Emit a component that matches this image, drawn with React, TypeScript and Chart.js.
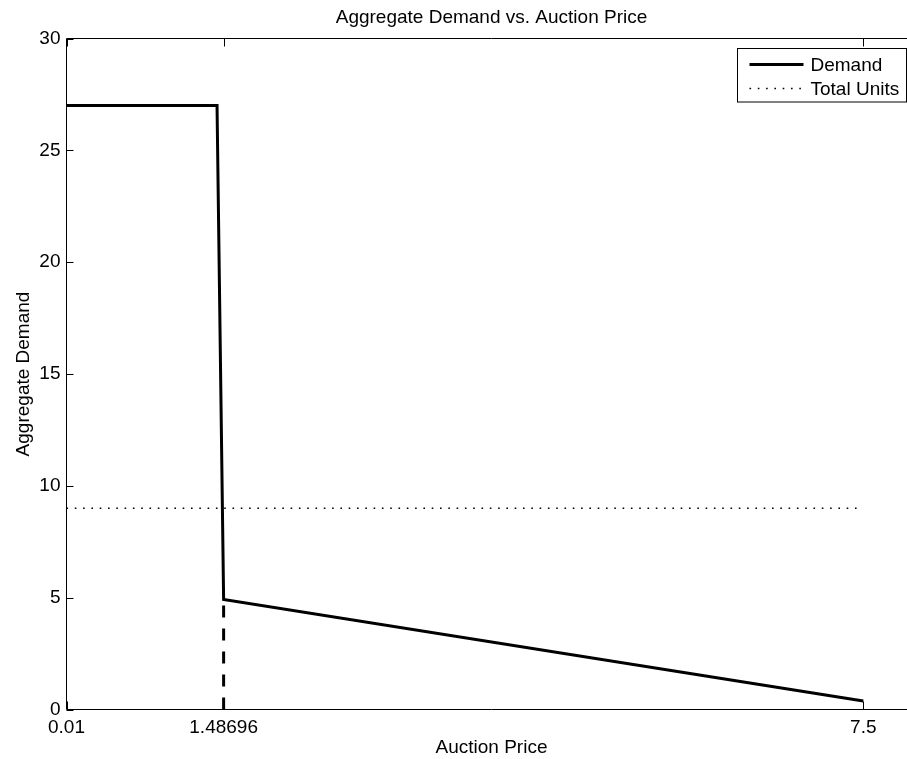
import { useEffect, useRef } from "react";
import { Chart, registerables } from "chart.js";

Chart.register(...registerables);

const TITLE = "Aggregate Demand vs. Auction Price";
const X_LABEL = "Auction Price";
const Y_LABEL = "Aggregate Demand";

// Price axis
const X_MIN = 0.01;
const X_MAX = 8;
const X_TICKS = [0.01, 1.48696, 7.5];
const X_TICK_LABELS = ["0.01", "1.48696", "7.5"];

// Demand axis
const Y_MIN = 0;
const Y_MAX = 30;
const Y_STEP = 5;

// Aggregate demand curve
const DEMAND_PRICE = [0.01, 1.425, 1.48696, 7.5];
const DEMAND_QTY = [27, 27, 4.92, 0.38];

// Supply (total units available)
const TOTAL_UNITS_PRICE = [0.01, 7.5];
const TOTAL_UNITS_QTY = [9, 9];

// Clearing price marker
const CLEARING_PRICE = [1.48696, 1.48696];
const CLEARING_QTY = [0, 4.92];

const FAMILY = "'Liberation Sans', Arial, Helvetica, sans-serif";
const FONT_SIZE = 19;
const CANVAS_W = 920;
const CANVAS_H = 759;

const toPoints = (xs: number[], ys: number[]) => xs.map((x, i) => ({ x, y: ys[i] }));

// Axes box, inward tick marks and the in-plot legend
const boxPlugin = {
  id: "matlabBox",
  afterDraw(chart: any) {
    const { ctx, chartArea: a, scales } = chart;
    const xs = scales.x;
    const ys = scales.y;
    ctx.save();
    ctx.strokeStyle = "#000";
    ctx.lineWidth = 1;
    ctx.beginPath();
    ctx.rect(a.left, a.top, a.right - a.left, a.bottom - a.top);
    ctx.stroke();

    const tick = 8;
    ctx.beginPath();
    for (const v of X_TICKS) {
      const px = Math.round(xs.getPixelForValue(v)) + 0.5;
      ctx.moveTo(px, a.bottom);
      ctx.lineTo(px, a.bottom - tick);
      ctx.moveTo(px, a.top);
      ctx.lineTo(px, a.top + tick);
    }
    for (let v = Y_MIN; v <= Y_MAX; v += Y_STEP) {
      const py = Math.round(ys.getPixelForValue(v)) + 0.5;
      ctx.moveTo(a.left, py);
      ctx.lineTo(a.left + tick - 1, py);
      ctx.moveTo(a.right, py);
      ctx.lineTo(a.right - tick + 1, py);
    }
    ctx.stroke();

    // legend
    const entries = chart.data.datasets.filter((d: any) => !d.hideInLegend);
    const w = 169;
    const h = 53.5;
    const right = Math.floor(a.right - 10) + 0.5;
    const top = Math.round(a.top + 9) + 0.5;
    const left = right - w;
    ctx.fillStyle = "#fff";
    ctx.fillRect(left, top, w, h);
    ctx.strokeStyle = "#000";
    ctx.lineWidth = 1;
    ctx.strokeRect(left, top, w, h);
    ctx.font = `${FONT_SIZE}px ${FAMILY}`;
    ctx.textBaseline = "middle";
    ctx.textAlign = "left";
    entries.forEach((d: any, i: number) => {
      const y = top + 16 + i * 24;
      ctx.save();
      ctx.strokeStyle = d.borderColor;
      ctx.lineWidth = d.borderWidth;
      ctx.setLineDash(d.borderDash || []);
      ctx.beginPath();
      ctx.moveTo(left + 12, y);
      ctx.lineTo(left + 66, y);
      ctx.stroke();
      ctx.restore();
      ctx.fillStyle = "#000";
      ctx.fillText(d.label, left + 73, y + 1.5);
    });
    ctx.restore();
  },
};

export default function App() {
  const canvasRef = useRef<HTMLCanvasElement | null>(null);

  useEffect(() => {
    const canvas = canvasRef.current;
    if (!canvas) return;
    const font = { family: FAMILY, size: FONT_SIZE, weight: "normal" as const };
    const chart = new Chart(canvas, {
      type: "scatter",
      data: {
        datasets: [
          {
            label: "Demand",
            data: toPoints(DEMAND_PRICE, DEMAND_QTY),
            showLine: true,
            borderColor: "#000",
            backgroundColor: "#000",
            borderWidth: 3,
            borderJoinStyle: "miter",
            pointRadius: 0,
          },
          {
            label: "Total Units",
            data: toPoints(TOTAL_UNITS_PRICE, TOTAL_UNITS_QTY),
            showLine: true,
            borderColor: "#000",
            backgroundColor: "#000",
            borderWidth: 1.5,
            borderDash: [1.6, 6.7],
            pointRadius: 0,
          },
          {
            label: "Clearing Price",
            hideInLegend: true,
            data: toPoints(CLEARING_PRICE, CLEARING_QTY),
            showLine: true,
            borderColor: "#000",
            backgroundColor: "#000",
            borderWidth: 3,
            borderDash: [12, 11],
            pointRadius: 0,
          } as any,
        ],
      },
      options: {
        animation: false,
        responsive: false,
        devicePixelRatio: 1,
        layout: { padding: { left: 0, right: 3.5, top: 0, bottom: 0 } },
        plugins: {
          legend: { display: false },
          tooltip: { enabled: false },
          title: {
            display: true,
            text: TITLE,
            fullSize: false,
            color: "#000",
            font,
            padding: { top: 6, bottom: 9.7 },
          },
        },
        scales: {
          x: {
            type: "linear",
            min: X_MIN,
            max: X_MAX,
            grid: { display: false, drawTicks: false },
            border: { display: false },
            afterBuildTicks: (s: any) => {
              s.ticks = X_TICKS.map((v) => ({ value: v }));
            },
            afterFit: (s: any) => {
              s.height = 49.5;
            },
            ticks: {
              autoSkip: false,
              maxRotation: 0,
              padding: 7,
              color: "#000",
              font,
              callback: (_v: any, i: number) => X_TICK_LABELS[i],
            },
            title: {
              display: true,
              text: X_LABEL,
              color: "#000",
              font,
              padding: { top: 0, bottom: 0 },
            },
          },
          y: {
            type: "linear",
            min: Y_MIN,
            max: Y_MAX,
            grid: { display: false, drawTicks: false },
            border: { display: false },
            afterFit: (s: any) => {
              s.width = 66.5;
            },
            ticks: {
              stepSize: Y_STEP,
              autoSkip: false,
              padding: 6,
              color: "#000",
              font,
            },
            title: {
              display: true,
              text: Y_LABEL,
              color: "#000",
              font,
              padding: { top: 12, bottom: 0 },
            },
          },
        },
      } as any,
      plugins: [boxPlugin],
    });
    return () => chart.destroy();
  }, []);

  return (
    <div
      style={{
        position: "absolute",
        left: 0,
        top: 0,
        width: 907,
        height: CANVAS_H,
        overflow: "hidden",
        background: "#fff",
      }}
    >
      <canvas
        ref={canvasRef}
        width={CANVAS_W}
        height={CANVAS_H}
        style={{ display: "block", width: CANVAS_W, height: CANVAS_H }}
      />
    </div>
  );
}
